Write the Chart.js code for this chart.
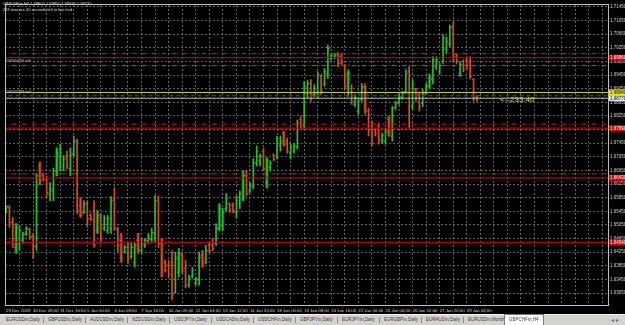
<!DOCTYPE html>
<html><head><meta charset="utf-8">
<script src="https://cdn.jsdelivr.net/npm/chart.js@4.4.0/dist/chart.umd.min.js"></script>
<style>
html,body{margin:0;padding:0;background:#000;width:625px;height:325px;overflow:hidden;font-family:"Liberation Sans",Arial,sans-serif;}
#wrap{position:absolute;left:0;top:0;width:625px;height:314px;}
canvas{display:block;}
.t{position:absolute;transform-origin:0 0;transform:scale(0.5);white-space:nowrap;}
#tabs{position:absolute;left:0;top:314px;width:625px;height:11px;background:#d4d2ce;border-top:1px solid #f4f4f4;box-sizing:border-box;}
.tab{position:absolute;top:0;height:10px;}
.tab span{position:absolute;left:4px;top:2px;font-size:9px;line-height:10px;color:#3a3a3a;transform-origin:0 0;transform:scale(0.5);white-space:nowrap;}
.sep{position:absolute;top:2px;width:1px;height:6px;background:#8a8a8a;}
.act{background:#fff;border:1px solid #7a7a7a;border-bottom:none;top:-1px;height:11px;box-sizing:border-box;}
</style></head>
<body>
<div id="wrap"><canvas id="c" width="625" height="314"></canvas></div>
<div class="t" style="left:3px;top:1px;font-size:8px;line-height:12px;color:#d8d8d8" id="hdr1"></div>
<div class="t" style="left:3px;top:7px;font-size:8px;line-height:12px;color:#d8d8d8">233 minutes 40 seconds left to bar end</div>
<div class="t" style="left:5px;top:59px;font-size:7px;line-height:8px;color:#cfcfcf">#165304756 sell</div>
<div class="t" style="left:5px;top:90px;font-size:7px;line-height:8px;color:#cfcfcf">#165321189 sell</div>
<div style="position:absolute;left:500px;top:96px;font-size:8px;line-height:8px;color:#e4e42a;white-space:nowrap">&lt;--233:40</div>
<div id="tabs"></div>
<script>
const symbol = "GBPCHFm,H4";
const timeLabels = ["29 Dec 2009","30 Dec 08:00","31 Dec 16:00","5 Jan 00:00","6 Jan 08:00","7 Jan 16:00","10 Jan 20:00","12 Jan 04:00","13 Jan 12:00","14 Jan 20:00","18 Jan 00:00","19 Jan 08:00","20 Jan 16:00","22 Jan 00:00","25 Jan 04:00","26 Jan 12:00","27 Jan 20:00","29 Jan 04:00"];
const priceTicks = [1.6305,1.6345,1.6385,1.6425,1.6465,1.6505,1.6545,1.6585,1.6625,1.6665,1.6705,1.6745,1.6785,1.6825,1.6865,1.6905,1.6945,1.6985,1.7025,1.7065,1.7105,1.7145];

const opens = [
1.6544,1.6556,1.6512,1.6439,1.6451,1.6460,1.6480,1.6492,1.6471,1.6442,
1.6678,1.6652,1.6640,1.6594,1.6605,1.6664,1.6708,1.6678,1.6708,1.6670,
1.6713,1.6751,1.6562,1.6541,1.6567,1.6533,1.6547,1.6489,1.6527,1.6495,
1.6489,1.6495,1.6582,1.6492,1.6460,1.6425,1.6439,1.6413,1.6395,1.6460,
1.6430,1.6445,1.6457,1.6462,1.6480,1.6576,1.6451,1.6395,1.6387,1.6395,
1.6308,1.6366,1.6416,1.6378,1.6328,1.6355,1.6334,1.6343,1.6416,1.6395,
1.6448,1.6445,1.6451,1.6495,1.6503,1.6553,1.6567,1.6562,1.6541,1.6567,
1.6582,1.6649,1.6605,1.6620,1.6687,1.6693,1.6722,1.6629,1.6675,1.6710,
1.6708,1.6737,1.6775,1.6751,1.6716,1.6722,1.6734,1.6815,1.6798,1.6891,
1.6920,1.6888,1.6891,1.6941,1.6920,1.6950,1.6993,1.6996,1.7005,1.6999,
1.6973,1.6912,1.6912,1.6859,1.6839,1.6874,1.6909,1.6839,1.6795,1.6786,
1.6795,1.6751,1.6751,1.6815,1.6766,1.6850,1.6865,1.6880,1.6897,1.6955,
1.6853,1.6903,1.6888,1.6862,1.6894,1.6912,1.6932,1.6970,1.6955,1.6985,
1.7020,1.7037,1.7087,1.7005,1.6950,1.6985,1.6990,1.6985,1.6932,1.6880];
const highs = [
1.6562,1.6562,1.6527,1.6509,1.6503,1.6483,1.6500,1.6495,1.6480,1.6655,
1.6690,1.6655,1.6649,1.6629,1.6672,1.6731,1.6742,1.6708,1.6722,1.6731,
1.6766,1.6757,1.6585,1.6576,1.6576,1.6538,1.6576,1.6547,1.6538,1.6533,
1.6533,1.6588,1.6614,1.6498,1.6480,1.6445,1.6451,1.6451,1.6451,1.6480,
1.6465,1.6465,1.6480,1.6495,1.6591,1.6591,1.6465,1.6401,1.6401,1.6430,
1.6425,1.6436,1.6425,1.6401,1.6357,1.6381,1.6352,1.6425,1.6430,1.6445,
1.6454,1.6465,1.6509,1.6567,1.6553,1.6597,1.6570,1.6570,1.6591,1.6605,
1.6664,1.6664,1.6629,1.6699,1.6737,1.6713,1.6731,1.6702,1.6693,1.6713,
1.6766,1.6766,1.6780,1.6760,1.6742,1.6745,1.6813,1.6824,1.6926,1.6929,
1.6932,1.6917,1.6955,1.6947,1.6964,1.7034,1.7008,1.7008,1.7011,1.7008,
1.6976,1.6961,1.6917,1.6888,1.6877,1.6920,1.6920,1.6848,1.6810,1.6789,
1.6804,1.6775,1.6789,1.6824,1.6853,1.6868,1.6891,1.6897,1.6961,1.6970,
1.6932,1.6906,1.6891,1.6903,1.6920,1.6947,1.6999,1.6999,1.6979,1.7063,
1.7058,1.7092,1.7101,1.7008,1.6985,1.6990,1.6999,1.6999,1.6935,1.6885];
const lows = [
1.6541,1.6498,1.6439,1.6422,1.6430,1.6451,1.6474,1.6462,1.6407,1.6430,
1.6623,1.6635,1.6585,1.6576,1.6576,1.6649,1.6664,1.6664,1.6670,1.6649,
1.6708,1.6538,1.6527,1.6538,1.6498,1.6518,1.6439,1.6480,1.6451,1.6489,
1.6480,1.6480,1.6489,1.6425,1.6395,1.6422,1.6392,1.6407,1.6381,1.6422,
1.6422,1.6439,1.6451,1.6454,1.6454,1.6439,1.6352,1.6366,1.6352,1.6285,
1.6305,1.6352,1.6363,1.6320,1.6322,1.6349,1.6328,1.6328,1.6381,1.6392,
1.6425,1.6430,1.6445,1.6489,1.6489,1.6547,1.6541,1.6541,1.6527,1.6553,
1.6576,1.6591,1.6600,1.6611,1.6678,1.6678,1.6664,1.6614,1.6664,1.6693,
1.6699,1.6722,1.6737,1.6716,1.6699,1.6716,1.6728,1.6786,1.6789,1.6877,
1.6868,1.6882,1.6877,1.6888,1.6912,1.6935,1.6990,1.6993,1.6970,1.6976,
1.6903,1.6882,1.6859,1.6853,1.6830,1.6868,1.6830,1.6766,1.6737,1.6766,
1.6742,1.6745,1.6742,1.6766,1.6751,1.6845,1.6859,1.6874,1.6891,1.6789,
1.6845,1.6868,1.6839,1.6853,1.6888,1.6906,1.6920,1.6961,1.6947,1.6979,
1.7008,1.7028,1.6985,1.6979,1.6941,1.6955,1.6964,1.6935,1.6868,1.6868];
const closes = [
1.6559,1.6512,1.6451,1.6495,1.6489,1.6477,1.6495,1.6468,1.6442,1.6649,
1.6635,1.6637,1.6600,1.6611,1.6664,1.6716,1.6728,1.6699,1.6678,1.6710,
1.6751,1.6547,1.6533,1.6567,1.6524,1.6521,1.6445,1.6533,1.6465,1.6524,
1.6524,1.6576,1.6495,1.6445,1.6407,1.6439,1.6407,1.6439,1.6445,1.6430,
1.6451,1.6460,1.6471,1.6483,1.6576,1.6451,1.6372,1.6372,1.6360,1.6299,
1.6407,1.6422,1.6372,1.6328,1.6349,1.6372,1.6346,1.6410,1.6387,1.6430,
1.6430,1.6436,1.6495,1.6553,1.6541,1.6582,1.6547,1.6547,1.6576,1.6597,
1.6649,1.6597,1.6620,1.6687,1.6722,1.6708,1.6670,1.6693,1.6687,1.6696,
1.6757,1.6751,1.6742,1.6722,1.6734,1.6737,1.6804,1.6792,1.6912,1.6920,
1.6877,1.6906,1.6947,1.6897,1.6955,1.7023,1.7002,1.7005,1.6979,1.6982,
1.6912,1.6950,1.6868,1.6880,1.6868,1.6912,1.6839,1.6780,1.6751,1.6772,
1.6757,1.6769,1.6780,1.6775,1.6845,1.6862,1.6882,1.6891,1.6950,1.6804,
1.6920,1.6877,1.6853,1.6891,1.6912,1.6938,1.6990,1.6990,1.6973,1.7052,
1.7043,1.7084,1.6999,1.6985,1.6976,1.6961,1.6973,1.6941,1.6877,1.6877];

const shadeIdx = [3,10,15,22,27,34,39,46,51,58,63,70,77,82,101,106,113,125];
const shadeHi  = [1.6509,1.6687,1.6731,1.6585,1.6547,1.6480,1.6480,1.6465,1.6422,1.6430,1.6567,1.6664,1.6702,1.6780,1.6955,1.6912,1.6824,1.6947];
const shadeLo  = [1.6422,1.6626,1.6649,1.6527,1.6480,1.6395,1.6422,1.6352,1.6366,1.6381,1.6489,1.6576,1.6614,1.6737,1.6917,1.6839,1.6766,1.6906];

const redSolid   = [1.6996,1.6789,1.6643,1.6454];
const redDashDot = [1.7008,1.6801,1.6655];
const greenDashDot = [1.6973];
const yellowLine = [1.6894];
const darkGreenDash = [1.6884];
const bidLine = closes[closes.length-1];

const tabNames = ["EURUSDm,Daily","GBPUSDm,Daily","AUDUSDm,Daily","NZDUSDm,Daily","USDJPYm,Daily","USDCADm,Daily","USDCHFm,Daily","GBPJPYm,Daily","EURJPYm,Daily","EURGBPm,Daily","EURAUDm,Daily","EURUSDm,Monthly","GBPCHFm,H4"];

// ---- layout constants (pixels of the axes, not data) ----
const X_MIN = -0.294, X_MAX = 177.68;
const Y_MIN = 1.62699, Y_MAX = 1.71508;
const UP = '#22c422', DN = '#dc4c16', UPD = '#0f4f12', DND = '#55200c';

const n = opens.length;
const f5 = v => v.toFixed(5);
document.getElementById('hdr1').textContent = symbol + '  ' + f5(opens[n-1]) + ' ' + f5(highs[n-1]) + ' ' + f5(lows[n-1]) + ' ' + f5(closes[n-1]);

const cols = opens.map((o,i)=> closes[i] >= o ? UP : DN);
const gridIdx = []; for (let g = 0; g <= 176; g += 4) gridIdx.push(g);

function hline(v, color, width, dash) {
  return {type:'line', data:[{x:X_MIN-1,y:v},{x:X_MAX+1,y:v}], borderColor:color, borderWidth:width,
          borderDash:dash, pointRadius:0, order:0, clip:0};
}
const datasets = [];
redSolid.forEach(v=>datasets.push(hline(v,'#c00000',1.2,[])));
redDashDot.forEach(v=>datasets.push(hline(v,'#d01c1c',1,[5,2,1,2])));
greenDashDot.forEach(v=>datasets.push(hline(v,'#1ea01e',1,[5,2,1,2])));
yellowLine.forEach(v=>datasets.push(hline(v,'#d0d020',1,[])));
darkGreenDash.forEach(v=>datasets.push(hline(v,'#1c5a1c',1.5,[4,3])));
datasets.push(hline(bidLine,'#bdbdbd',1,[]));

datasets.push({type:'bar', data: shadeIdx.map((ix,k)=>({x:ix, y:[shadeLo[k], shadeHi[k]]})),
  backgroundColor: shadeIdx.map(ix=> closes[ix] >= opens[ix] ? UPD : DND), barThickness:3, grouped:false, order:3});
datasets.push({type:'bar', data: highs.map((h,i)=>({x:i, y:[lows[i], h]})),
  backgroundColor: cols, barThickness:1, grouped:false, order:2});
datasets.push({type:'line', showLine:false, data: opens.map((o,i)=>({x:i-0.3, y:o})),
  pointStyle:'line', pointRadius:0.8, pointBorderWidth:1, pointBorderColor:cols, order:1});
datasets.push({type:'line', showLine:false, data: closes.map((c,i)=>({x:i+0.3, y:c})),
  pointStyle:'line', pointRadius:0.8, pointBorderWidth:1, pointBorderColor:cols, order:1});

const boxes = [];
redSolid.forEach(v=>boxes.push({v, bg:'#e00000', fg:'#ffffff'}));
yellowLine.forEach(v=>boxes.push({v, bg:'#e8e800', fg:'#000000'}));
boxes.push({v:bidLine, bg:'#e8e8e8', fg:'#000000'});

const framePlugin = {
  id:'frame',
  afterDraw(chart){
    const {ctx, chartArea:a, scales:{y}} = chart;
    ctx.save();
    ctx.strokeStyle = '#bcbcbc'; ctx.lineWidth = 1;
    ctx.strokeRect(Math.round(a.left)+0.5, Math.round(a.top)-0.5, Math.round(a.right-a.left), Math.round(a.bottom-a.top)+1);
    ctx.font = '4.5px "Liberation Sans"'; ctx.textBaseline = 'middle'; ctx.textAlign = 'left';
    boxes.forEach(b=>{
      const py = y.getPixelForValue(b.v);
      ctx.fillStyle = b.bg; ctx.fillRect(a.right+1, py-3, 625-a.right, 6);
      ctx.fillStyle = b.fg; ctx.fillText(f5(b.v), a.right+2, py+0.3);
    });
    ctx.restore();
  }
};

new Chart(document.getElementById('c'), {
  type:'bar',
  data:{datasets},
  plugins:[framePlugin],
  options:{
    responsive:false, animation:false, devicePixelRatio:1, events:[],
    layout:{padding:{left:2, top:3, right:0, bottom:0}},
    plugins:{legend:{display:false}, tooltip:{enabled:false}},
    scales:{
      x:{type:'linear', min:X_MIN, max:X_MAX, offset:false,
        grid:{color:'#646464', drawTicks:false, offset:false, lineWidth:1},
        border:{display:false, dash:[2,2]},
        afterBuildTicks: s => { s.ticks = gridIdx.map(v=>({value:v})); },
        afterFit: s => { s.height = 9; },
        ticks:{autoSkip:false, maxRotation:0, minRotation:0, align:'start', padding:3, color:'#d4d4d4',
          font:{size:4.3, family:'Liberation Sans'},
          callback: v => (v % 8 === 0 && v/8 < timeLabels.length) ? timeLabels[v/8] : ''}
      },
      y:{type:'linear', position:'right', min:Y_MIN, max:Y_MAX,
        grid:{color:'#646464', drawTicks:false, lineWidth:1},
        border:{display:false, dash:[2,2]},
        afterBuildTicks: s => { s.ticks = priceTicks.map(v=>({value:v})); },
        afterFit: s => { s.width = 17; },
        ticks:{padding:2, color:'#d4d4d4', font:{size:4.5, family:'Liberation Sans'}, callback: v => f5(v)}
      }
    }
  }
});

// tab bar
const tabs = document.getElementById('tabs');
tabNames.forEach((name,k)=>{
  const d = document.createElement('div');
  const last = k === tabNames.length-1;
  d.className = 'tab' + (last ? ' act' : '');
  d.style.left = (last ? 504 : 2 + 42*k) + 'px';
  d.style.width = (last ? 40 : 42) + 'px';
  const s = document.createElement('span'); s.textContent = name; d.appendChild(s);
  tabs.appendChild(d);
  if (!last && k < tabNames.length-2) {
    const sp = document.createElement('div'); sp.className = 'sep'; sp.style.left = (2 + 42*k + 41) + 'px'; tabs.appendChild(sp);
  }
});
const arr = document.createElement('div');
arr.style.cssText = 'position:absolute;left:611px;top:1px;font-size:6px;line-height:8px;color:#6a6a6a;white-space:nowrap';
arr.textContent = '\u25C2 \u25B8';
tabs.appendChild(arr);
</script>
</body></html>
